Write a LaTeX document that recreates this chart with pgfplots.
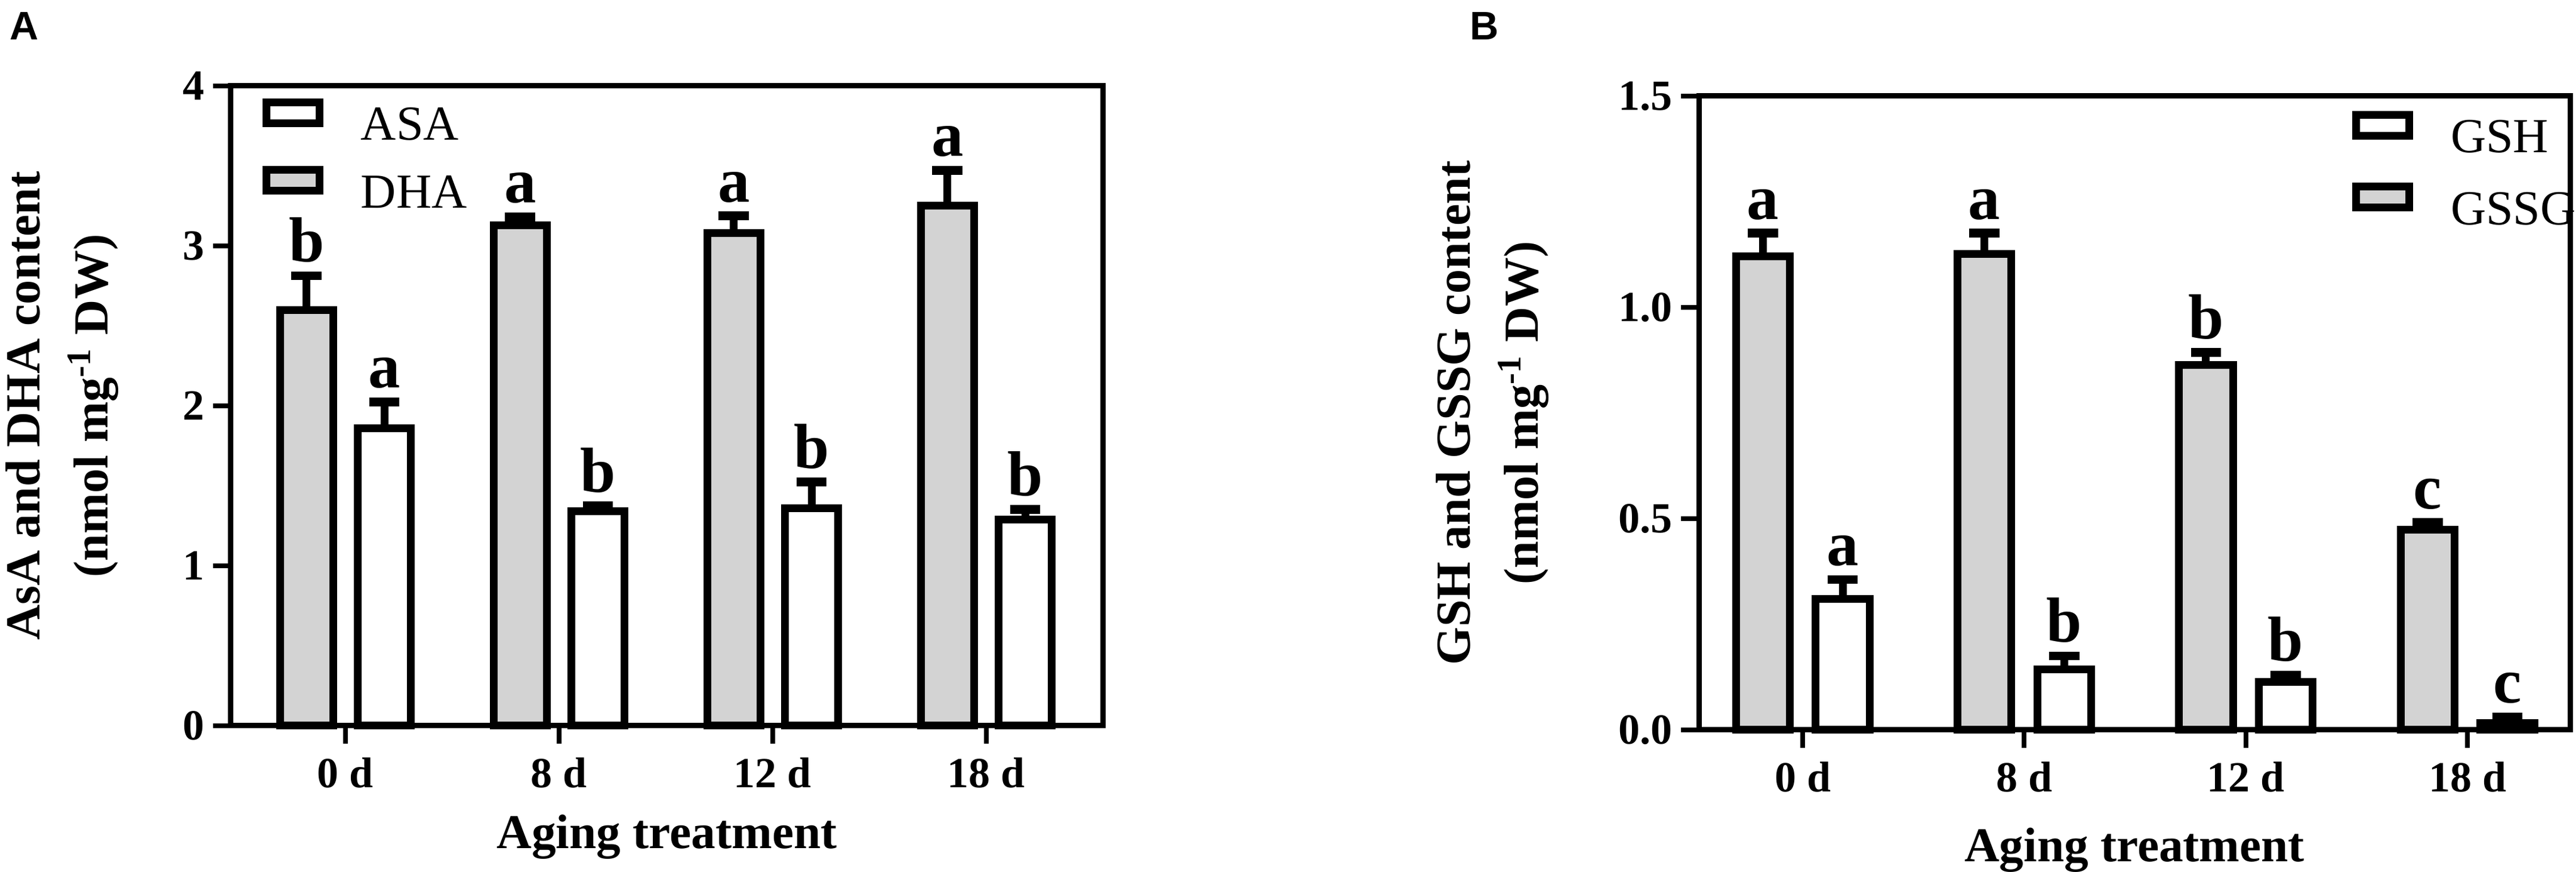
\documentclass[border=0pt]{standalone}
\usepackage{fontspec}
\setmainfont{Liberation Serif}
\newfontfamily\panelfont{Liberation Sans}
\usepackage{pgfplots}
\pgfplotsset{compat=1.18}
\definecolor{bargray}{RGB}{211,211,211}

\pgfplotsset{
  myaxis/.style={
    scale only axis, anchor=south west,
    clip=false,
    tick pos=left, tick align=outside,
    major tick length=4.5pt,
    major tick style={line width=1.2pt, black},
    axis line style={line width=1.35pt},
    xtick={0,1,2,3}, xticklabels={0 d,8 d,12 d,18 d},
    /pgf/number format/assume math mode=true,
    tick label style={font=\fontsize{10.8}{12}\selectfont\bfseries},
    yticklabel style={inner sep=2pt},
    ylabel style={anchor=center, align=center, font=\fontsize{12.3}{14.6}\selectfont\bfseries},
    legend cell align=left,
  },
  errstyle/.style={
    error bars/y dir=plus, error bars/y explicit,
    error bars/error mark=-,
    error bars/error bar style={line width=1.95pt, black},
    error bars/error mark options={rotate=90, line width=2.2pt, mark size=3.8pt, black}},
  whitebar/.style={ybar, bar shift=0, fill=white, draw=black, line width=1.95pt, line join=miter, errstyle},
  graybar/.style={ybar, bar shift=0, fill=bargray, draw=black, line width=1.95pt, line join=miter, errstyle},
  letters/.style={draw=none, mark=none, forget plot, nodes near coords,
    point meta=explicit symbolic,
    nodes near coords style={anchor=base, yshift=3.5pt, inner sep=0pt,
      font=\fontsize{16}{16}\selectfont\bfseries}},
}

\begin{document}
\begin{tikzpicture}

% ---------------- Panel A ----------------
\begin{axis}[myaxis,
  at={(58.05pt,36.75pt)}, width=219.15pt, height=160.8pt,
  xmin=-0.536, xmax=3.545, ymin=0, ymax=4,
  ytick={0,1,2,3,4},
  xlabel={Aging treatment},
  xlabel style={at={(axis description cs:0.5,-0.192)}, anchor=base, font=\fontsize{12.2}{14}\selectfont\bfseries},
  ylabel={AsA and DHA content\\[2.4pt](nmol mg\textsuperscript{-1} DW)},
  ylabel style={at={(axis description cs:-0.1937,0.5)}},
  legend style={draw=none, fill=none, inner sep=0pt, outer sep=0pt,
    at={(axis description cs:0,1)}, xshift=7.875pt, yshift=-3.1pt, anchor=north west,
    row sep=5.0pt, column sep=9.5pt,
    nodes={inner sep=0pt, outer sep=0pt},
    font=\fontsize{12.3}{14}\selectfont},
]
\addlegendimage{legend image code/.code={\draw[draw=black, fill=white, line width=1.95pt, line join=miter] (0pt,0.975pt) rectangle (13.35pt,6.225pt);}}
\addlegendentry{ASA}
\addlegendimage{legend image code/.code={\draw[draw=black, fill=bargray, line width=1.95pt, line join=miter] (0pt,0.975pt) rectangle (13.35pt,6.225pt);}}
\addlegendentry{DHA}

% ASA (white), right bar of each group
\addplot[whitebar, bar width=0.249, forget plot] table[x=x, y=y, y error=e] {
x y e
0.182 1.86 0.165
1.182 1.34 0.035
2.182 1.36 0.164
3.182 1.29 0.063
};
% DHA (gray), left bar of each group
\addplot[graybar, bar width=0.249, forget plot] table[x=x, y=y, y error=e] {
x y e
-0.182 2.60 0.213
0.818 3.13 0.052
1.818 3.08 0.108
2.818 3.25 0.223
};
\addplot[letters] table[x=x, y=y, meta=l] {
x y l
-0.182 2.813 b
0.818 3.182 a
1.818 3.188 a
2.818 3.473 a
0.182 2.025 a
1.182 1.375 b
2.182 1.524 b
3.182 1.353 b
};
\end{axis}

% ---------------- Panel B ----------------
\begin{axis}[myaxis,
  at={(427.05pt,35.7pt)}, width=219pt, height=159.3pt,
  xmin=-0.469, xmax=3.463, ymin=0, ymax=1.5,
  ytick={0,0.5,1,1.5}, yticklabels={0.0,0.5,1.0,1.5},
  xlabel={Aging treatment},
  xlabel style={at={(axis description cs:0.5,-0.2075)}, anchor=base, font=\fontsize{12.2}{14}\selectfont\bfseries},
  ylabel={GSH and GSSG content\\[2.4pt](nmol mg\textsuperscript{-1} DW)},
  ylabel style={at={(axis description cs:-0.237,0.5)}},
  legend style={draw=none, fill=none, inner sep=0pt, outer sep=0pt,
    at={(axis description cs:0,1)}, xshift=164.2pt, yshift=-3.7pt, anchor=north west,
    row sep=6.05pt, column sep=9.5pt,
    nodes={inner sep=0pt, outer sep=0pt},
    font=\fontsize{12.3}{14}\selectfont},
]
\addlegendimage{legend image code/.code={\draw[draw=black, fill=white, line width=1.95pt, line join=miter] (0pt,0.975pt) rectangle (13.35pt,6.225pt);}}
\addlegendentry{GSH}
\addlegendimage{legend image code/.code={\draw[draw=black, fill=bargray, line width=1.95pt, line join=miter] (0pt,0.975pt) rectangle (13.35pt,6.225pt);}}
\addlegendentry{GSSG}

% GSH (white), right bar of each group
\addplot[whitebar, bar width=0.243, forget plot] table[x=x, y=y, y error=e] {
x y e
0.18 0.310 0.046
1.18 0.143 0.032
2.18 0.113 0.017
3.18 0.016 0.015
};
% GSSG (gray), left bar of each group
\addplot[graybar, bar width=0.243, forget plot] table[x=x, y=y, y error=e] {
x y e
-0.18 1.121 0.055
0.82 1.126 0.050
1.82 0.864 0.029
2.82 0.474 0.017
};
\addplot[letters] table[x=x, y=y, meta=l] {
x y l
-0.18 1.176 a
0.82 1.176 a
1.82 0.893 b
2.82 0.491 c
0.18 0.356 a
1.18 0.175 b
2.18 0.130 b
3.18 0.031 c
};
\end{axis}

\node[anchor=north west, inner sep=0pt, font=\panelfont\bfseries\fontsize{10}{12}\selectfont] at (2.25pt,216.3pt) {A};
\node[anchor=north west, inner sep=0pt, font=\panelfont\bfseries\fontsize{10}{12}\selectfont] at (369.3pt,216.3pt) {B};

\pgfresetboundingbox
\path[use as bounding box] (0,0) rectangle (647.55pt,219.15pt);
\end{tikzpicture}
\end{document}
